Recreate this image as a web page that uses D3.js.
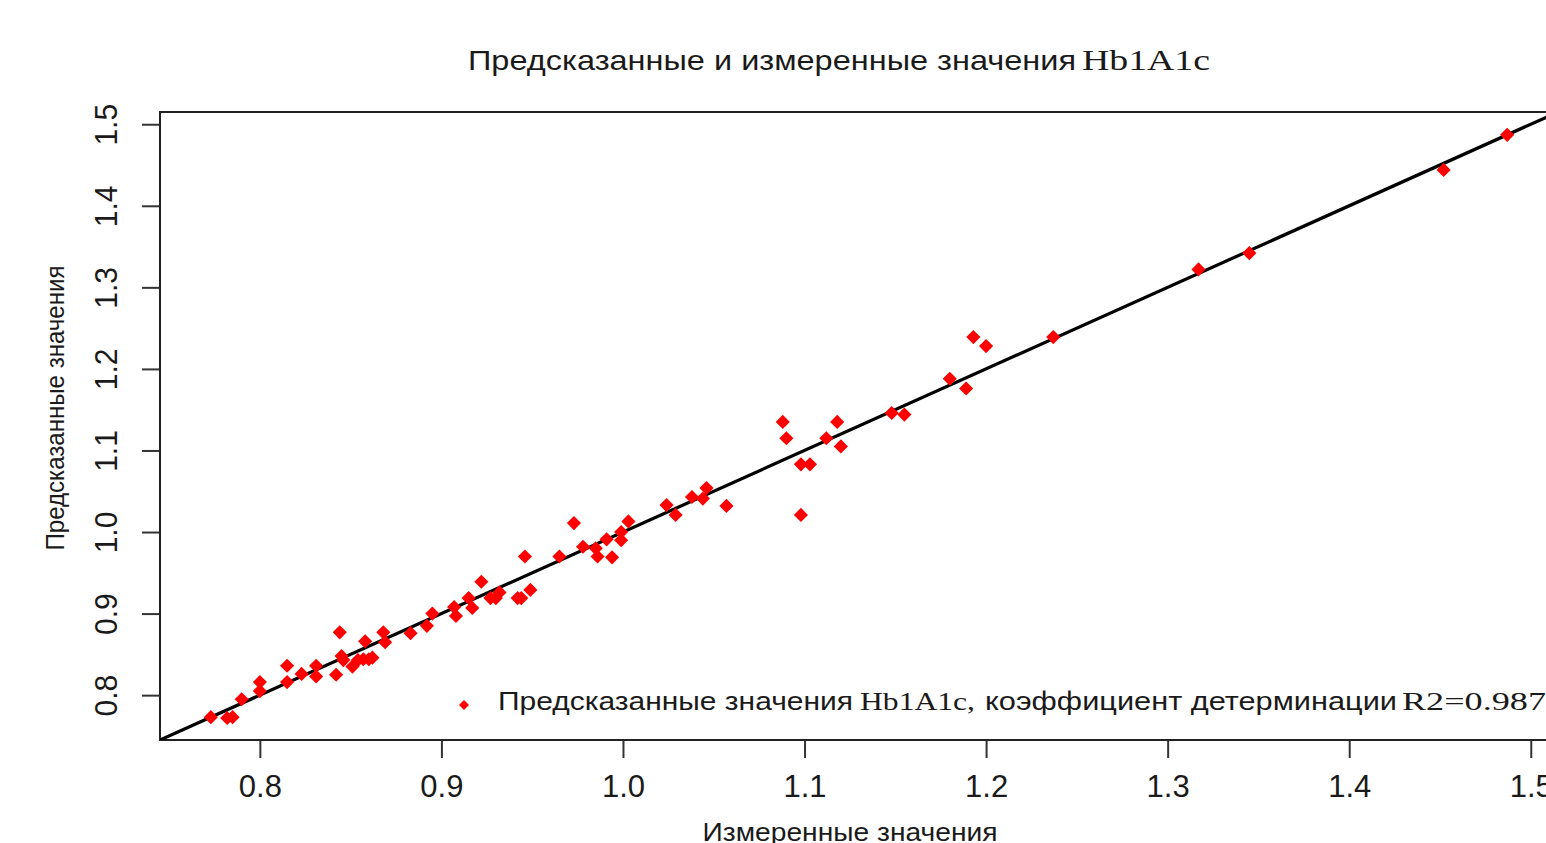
<!DOCTYPE html>
<html>
<head>
<meta charset="utf-8">
<script src="https://cdn.jsdelivr.net/npm/d3@7"></script>
<style>
  html, body { margin: 0; padding: 0; background: #fff; overflow: hidden; }
  text { font-family: "Liberation Sans", Arial, sans-serif; fill: #1a1a1a; }
  .serif { font-family: "Liberation Serif", "Times New Roman", serif; }
</style>
</head>
<body>
<div id="chart"></div>
<script>
const measured = [
  0.773, 0.782, 0.785, 0.790, 0.800, 0.800, 0.815, 0.815, 0.823, 0.831,
  0.831, 0.842, 0.844, 0.845, 0.846, 0.851, 0.854, 0.858, 0.857, 0.860,
  0.862, 0.868, 0.869, 0.883, 0.892, 0.895, 0.907, 0.908, 0.915, 0.917,
  0.922, 0.927, 0.930, 0.932, 0.942, 0.944, 0.946, 0.949, 0.965, 0.973,
  0.978, 0.985, 0.986, 0.991, 0.994, 0.999, 0.999, 1.003, 1.024, 1.029,
  1.038, 1.044, 1.046, 1.057, 1.088, 1.090, 1.098, 1.103, 1.098, 1.112,
  1.118, 1.120, 1.148, 1.155, 1.180, 1.189, 1.193, 1.200, 1.237, 1.317,
  1.345, 1.452, 1.487
];
const predicted = [
  0.773, 0.772, 0.773, 0.795, 0.816, 0.805, 0.836, 0.816, 0.826, 0.836,
  0.823, 0.825, 0.877, 0.848, 0.843, 0.835, 0.843, 0.866, 0.844, 0.844,
  0.846, 0.877, 0.865, 0.876, 0.885, 0.900, 0.908, 0.897, 0.919, 0.907,
  0.939, 0.919, 0.919, 0.926, 0.919, 0.919, 0.970, 0.929, 0.970, 1.011,
  0.982, 0.980, 0.970, 0.991, 0.969, 0.990, 1.000, 1.013, 1.033, 1.021,
  1.043, 1.041, 1.054, 1.032, 1.135, 1.115, 1.083, 1.083, 1.021, 1.115,
  1.135, 1.105, 1.146, 1.144, 1.188, 1.176, 1.239, 1.228, 1.239, 1.322,
  1.342, 1.444, 1.487
];
const xTicks = [0.8, 0.9, 1.0, 1.1, 1.2, 1.3, 1.4, 1.5];
const yTicks = [0.8, 0.9, 1.0, 1.1, 1.2, 1.3, 1.4, 1.5];
const limits = [0.745, 1.515];

const W = 1546, H = 843;
const margin = { top: 112, right: -12, bottom: 103, left: 160 };

const svg = d3.select("#chart").append("svg")
  .attr("width", W).attr("height", H)
  .style("display", "block");

svg.append("rect").attr("width", W).attr("height", H).attr("fill", "#fff");

const xScale = d3.scaleLinear().domain(limits).range([margin.left, W - margin.right]);
const yScale = d3.scaleLinear().domain(limits).range([H - margin.bottom, margin.top]);

const data = measured.map((m, i) => ({ m: m, p: predicted[i] }));

// axes
const xAxis = svg.append("g")
  .attr("transform", "translate(0," + (H - margin.bottom) + ")")
  .call(d3.axisBottom(xScale).tickValues(xTicks).tickSize(18).tickSizeOuter(0).tickFormat(d3.format(".1f")));
xAxis.select(".domain").remove();
xAxis.selectAll(".tick line").attr("stroke", "#333").attr("stroke-width", 2);
xAxis.selectAll(".tick text")
  .attr("y", 57).attr("dy", 0)
  .style("font-size", "31px").style("font-family", "Liberation Sans, Arial, sans-serif")
  .attr("fill", "#111");

const yAxis = svg.append("g")
  .attr("transform", "translate(" + margin.left + ",0)")
  .call(d3.axisLeft(yScale).tickValues(yTicks).tickSize(18).tickSizeOuter(0).tickFormat(d3.format(".1f")));
yAxis.select(".domain").remove();
yAxis.selectAll(".tick line").attr("stroke", "#333").attr("stroke-width", 2);
yAxis.selectAll(".tick text")
  .attr("x", 0).attr("dy", 0)
  .attr("text-anchor", "middle")
  .attr("transform", "translate(-43,0) scale(1.05,1) rotate(-90)")
  .style("font-size", "30px").style("font-family", "Liberation Sans, Arial, sans-serif")
  .attr("fill", "#333");

// box
svg.append("rect")
  .attr("x", margin.left).attr("y", margin.top)
  .attr("width", W - margin.right - margin.left)
  .attr("height", H - margin.bottom - margin.top)
  .attr("fill", "none").attr("stroke", "#222").attr("stroke-width", 2);

svg.append("clipPath").attr("id", "plotclip")
  .append("rect")
  .attr("x", margin.left).attr("y", margin.top)
  .attr("width", W - margin.right - margin.left)
  .attr("height", H - margin.bottom - margin.top);

const plot = svg.append("g").attr("clip-path", "url(#plotclip)");

// y = x line
plot.append("path")
  .datum(limits)
  .attr("d", d3.line().x(d => xScale(d)).y(d => yScale(d)))
  .attr("stroke", "#000").attr("stroke-width", 3.2).attr("fill", "none");

// points (pch 18 style diamonds)
const diamond = d3.symbol().type(d3.symbolSquare).size(100);
plot.selectAll("path.pt")
  .data(data)
  .enter()
  .append("path")
  .attr("class", "pt")
  .attr("d", diamond)
  .attr("transform", d => "translate(" + xScale(d.m) + "," + yScale(d.p) + ") rotate(45)")
  .attr("fill", "#ff0000");

// title
svg.append("text")
  .attr("x", 468).attr("y", 70)
  .attr("textLength", 608).attr("lengthAdjust", "spacingAndGlyphs")
  .style("font-size", "28px")
  .text("Предсказанные и измеренные значения");
svg.append("text").attr("class", "serif")
  .attr("x", 1082).attr("y", 70)
  .attr("textLength", 128).attr("lengthAdjust", "spacingAndGlyphs")
  .style("font-size", "29px")
  .text("Hb1A1c");

// axis titles
svg.append("text")
  .attr("x", 850).attr("y", 841)
  .attr("text-anchor", "middle")
  .attr("textLength", 295).attr("lengthAdjust", "spacingAndGlyphs")
  .style("font-size", "26px")
  .text("Измеренные значения");

svg.append("text")
  .attr("transform", "translate(64,408) rotate(-90)")
  .attr("text-anchor", "middle")
  .attr("textLength", 285).attr("lengthAdjust", "spacingAndGlyphs")
  .style("font-size", "26px")
  .text("Предсказанные значения");

// legend
const legendY = 710;
svg.append("path")
  .attr("d", d3.symbol().type(d3.symbolSquare).size(50))
  .attr("transform", "translate(464," + (legendY - 5) + ") rotate(45)")
  .attr("fill", "#ff0000");

const legendParts = [
  { t: "Предсказанные значения", x0: 498, x1: 853, serif: false },
  { t: "Hb1A1c,", x0: 860, x1: 975, serif: true },
  { t: "коэффициент детерминации", x0: 985, x1: 1397, serif: false },
  { t: "R2=0.987", x0: 1402, x1: 1546, serif: true }
];
svg.selectAll("text.legend")
  .data(legendParts)
  .enter()
  .append("text")
  .attr("class", d => d.serif ? "legend serif" : "legend")
  .attr("x", d => d.x0).attr("y", legendY)
  .attr("textLength", d => d.x1 - d.x0).attr("lengthAdjust", "spacingAndGlyphs")
  .style("font-size", "26px")
  .text(d => d.t);
</script>
</body>
</html>
